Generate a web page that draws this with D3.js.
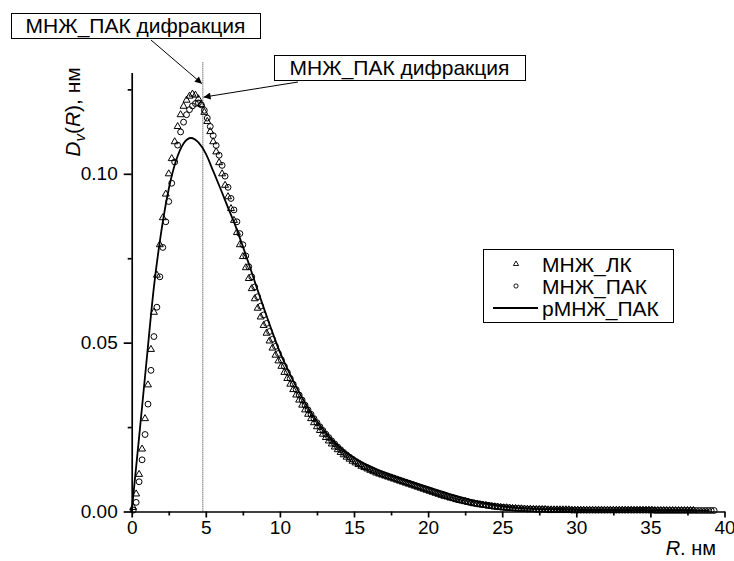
<!DOCTYPE html>
<html><head><meta charset="utf-8">
<script src="https://cdn.jsdelivr.net/npm/d3@7"></script>
<style>
body{margin:0;background:#fff;}
svg{display:block;font-family:"Liberation Sans",Arial,sans-serif;}
</style></head>
<body><svg id="c" width="734" height="561"></svg>
<script>
// R grid (nm) for the marker series
const R = [
0.1,0.3,0.5,0.7,0.9,1.1,1.3,1.5,1.7,1.9,
2.1,2.3,2.5,2.7,2.9,3.1,3.3,3.5,3.7,3.9,
4.1,4.3,4.5,4.7,4.9,5.1,5.3,5.5,5.7,5.9,
6.1,6.3,6.5,6.7,6.9,7.1,7.3,7.5,7.7,7.9,
8.1,8.3,8.5,8.7,8.9,9.1,9.3,9.5,9.7,9.9,
10.1,10.3,10.5,10.7,10.9,11.1,11.3,11.5,11.7,11.9,
12.1,12.3,12.5,12.7,12.9,13.1,13.3,13.5,13.7,13.9,
14.1,14.3,14.5,14.7,14.9,15.1,15.3,15.5,15.7,15.9,
16.1,16.3,16.5,16.7,16.9,17.1,17.3,17.5,17.7,17.9,
18.1,18.3,18.5,18.7,18.9,19.1,19.3,19.5,19.7,19.9,
20.1,20.3,20.5,20.7,20.9,21.1,21.3,21.5,21.7,21.9,
22.1,22.3,22.5,22.7,22.9,23.1,23.3,23.5,23.7,23.9,
24.1,24.3,24.5,24.7,24.9,25.1,25.3,25.5,25.7,25.9,
26.1,26.3,26.5,26.7,26.9,27.1,27.3,27.5,27.7,27.9,
28.1,28.3,28.5,28.7,28.9,29.1,29.3,29.5,29.7,29.9,
30.1,30.3,30.5,30.7,30.9,31.1,31.3,31.5,31.7,31.9,
32.1,32.3,32.5,32.7,32.9,33.1,33.3,33.5,33.7,33.9,
34.1,34.3,34.5,34.7,34.9,35.1,35.3,35.5,35.7,35.9,
36.1,36.3,36.5,36.7,36.9,37.1,37.3,37.5,37.7,37.9,
38.1,38.3,38.5,38.7,38.9,39.1,39.3];

// МНЖ_ЛК (triangles)
const mnzhLK = [
.0012,.0052,.0110,.0185,.0275,.0375,.0480,.0590,.0700,.0790,
.0870,.0940,.1000,.1045,.1095,.1140,.1175,.1200,.1218,.1230,
.1236,.1233,.1222,.1205,.1182,.1155,.1125,.1095,.1065,.1033,
.1000,.0966,.0932,.0897,.0862,.0826,.0790,.0755,.0722,.0690,
.0660,.0630,.0602,.0576,.0551,.0528,.0505,.0484,.0463,.0446,
.0430,.0412,.0394,.0377,.0361,.0345,.0330,.0315,.0301,.0288,
.0275,.0263,.0251,.0240,.0229,.0219,.0209,.0200,.0191,.0183,
.0175,.0168,.0161,.0155,.0149,.0144,.0139,.0134,.0130,.0126,
.0122,.0118,.0114,.0111,.0108,.0105,.0102,.0099,.0096,.0093,
.0090,.0087,.0084,.0081,.0078,.0075,.0072,.0069,.0066,.0063,
.0060,.0057,.0054,.0051,.0048,.0045,.0043,.0040,.0038,.0035,
.0033,.0031,.0029,.0027,.0025,.0023,.0022,.0020,.0019,.0018,
.0016,.0015,.0014,.0013,.0012,.0011,.0011,.0010,.0009,.0009,
.0008,.0008,.0007,.0007,.0007,.0006,.0006,.0006,.0006,.0006,
.0005,.0005,.0005,.0005,.0005,.0005,.0005,.0005,.0004,.0004,
.0004,.0004,.0004,.0004,.0004,.0004,.0004,.0004,.0004,.0004,
.0004,.0004,.0004,.0004,.0004,.0004,.0004,.0004,.0004,.0004,
.0004,.0004,.0004,.0004,.0004,.0004,.0003,.0003,.0003,.0003,
.0003,.0003,.0003,.0003,.0003,.0003,.0003,.0003,.0003,.0003,
null,null,null,null,null,null,null];

// МНЖ_ПАК (circles)
const mnzhPAK = [
.0004,.0027,.0088,.0153,.0228,.0318,.0418,.0518,.0605,.0695,
.0782,.0858,.0918,.0972,.1035,.1085,.1124,.1153,.1175,.1190,
.1201,.1208,.1210,.1204,.1188,.1165,.1140,.1113,.1084,.1055,
.1025,.0993,.0960,.0927,.0893,.0858,.0823,.0790,.0757,.0725,
.0695,.0665,.0636,.0608,.0582,.0557,.0533,.0510,.0489,.0468,
.0449,.0430,.0412,.0394,.0377,.0361,.0345,.0330,.0315,.0301,
.0288,.0275,.0263,.0251,.0240,.0229,.0219,.0209,.0200,.0191,
.0183,.0175,.0168,.0161,.0155,.0149,.0144,.0139,.0134,.0130,
.0126,.0122,.0118,.0114,.0111,.0108,.0105,.0102,.0099,.0096,
.0093,.0090,.0087,.0084,.0081,.0078,.0075,.0072,.0069,.0066,
.0063,.0060,.0057,.0054,.0051,.0048,.0045,.0043,.0040,.0038,
.0035,.0033,.0031,.0029,.0027,.0025,.0023,.0022,.0020,.0019,
.0018,.0016,.0015,.0014,.0013,.0012,.0011,.0011,.0010,.0009,
.0009,.0008,.0008,.0007,.0007,.0007,.0006,.0006,.0006,.0006,
.0005,.0005,.0005,.0005,.0005,.0005,.0005,.0005,.0004,.0004,
.0004,.0004,.0004,.0004,.0004,.0004,.0004,.0004,.0004,.0004,
.0004,.0004,.0004,.0004,.0004,.0004,.0004,.0004,.0004,.0004,
.0004,.0004,.0004,.0004,.0004,.0004,.0003,.0003,.0003,.0003,
.0003,.0003,.0003,.0003,.0003,.0003,.0003,.0003,.0003,.0003,
.0003,.0003,.0003,.0003,.0003,.0003,.0003];

// рМНЖ_ПАК (line)
const lineR = [
0,0.5,1,1.5,2,2.5,3,3.5,4,4.5,5,5.5,6,6.5,7,7.5,8,8.5,9,9.5,
10,10.5,11,11.5,12,12.5,13,13.5,14,14.5,15,15.5,16,16.5,17,17.5,18,18.5,19,19.5,
20,20.5,21,21.5,22,22.5,23,23.5,24,24.5,25,25.5,26,26.5,27,27.5,28,28.5,29,29.5,
30,30.5,31,31.5,32,32.5,33,33.5,34,34.5,35,35.5,36,36.5,37,37.5,38,38.5,39];
const rMnzhPAK = [
0,.0220,.0445,.0665,.0830,.0955,.1040,.1090,.1106,.1093,.1060,.1008,.0955,.0900,.0846,.0785,.0721,.0655,.0592,.0530,
.0472,.0423,.0378,.0337,.0300,.0268,.0240,.0214,.0193,.0174,.0159,.0146,.0135,.0125,.0117,.0108,.0100,.0093,.0086,.0079,
.0072,.0065,.0058,.0051,.0045,.0039,.0033,.0028,.0023,.0019,.0016,.0013,.0011,.0009,.0008,.0007,.0006,.0006,.0005,.0005,
.0005,.0004,.0004,.0004,.0004,.0004,.0004,.0004,.0004,.0004,.0003,.0003,.0003,.0003,.0003,.0003,.0003,.0003,.0003];

const xTicks = [0,5,10,15,20,25,30,35,40];
const xMinor = [2.5,7.5,12.5,17.5,22.5,27.5,32.5,37.5];
const yTicks = [0,0.05,0.10];
const yMinor = [0.025,0.075,0.125];
const legendNames = ["МНЖ_ЛК","МНЖ_ПАК","рМНЖ_ПАК"];
const annotText = "МНЖ_ПАК дифракция";
const diffR = 4.8;

const svg = d3.select("#c");
const x = d3.scaleLinear().domain([0,40]).range([131.7,724.5]);
const y = d3.scaleLinear().domain([0,0.13]).range([511.5,72.5]);

// vertical dotted line
svg.append("line").attr("x1",x(diffR)).attr("x2",x(diffR))
  .attr("y1",y(0.133)).attr("y2",y(0))
  .attr("stroke","#333").attr("stroke-width",1).attr("stroke-dasharray","1,1");

// data
const tri = d3.symbol().type(d3.symbolTriangle).size(21);
const cir = d3.symbol().type(d3.symbolCircle).size(27);
const triData = R.map((r,i)=>[r,mnzhLK[i]]).filter(d=>d[1]!=null);
const cirData = R.map((r,i)=>[r,mnzhPAK[i]]).filter(d=>d[1]!=null);

svg.append("g").selectAll("path").data(triData).join("path")
  .attr("d",tri).attr("transform",d=>`translate(${x(d[0])},${y(d[1])})`)
  .attr("fill","none").attr("stroke","#000").attr("stroke-width",1);
svg.append("g").selectAll("path").data(cirData).join("path")
  .attr("d",cir).attr("transform",d=>`translate(${x(d[0])},${y(d[1])})`)
  .attr("fill","none").attr("stroke","#000").attr("stroke-width",1);

const lineGen = d3.line().x(d=>x(d[0])).y(d=>y(d[1])).curve(d3.curveMonotoneX);
svg.append("path").datum(lineR.map((r,i)=>[r,rMnzhPAK[i]]))
  .attr("d",lineGen).attr("fill","none").attr("stroke","#000").attr("stroke-width",1.8);

// axes
function styleAxis(g){
  g.select(".domain").attr("stroke-width",1.7);
  g.selectAll(".tick line").attr("stroke-width",1.7);
  g.selectAll(".tick text").attr("font-size",19).attr("font-family","Liberation Sans, Arial, sans-serif").attr("fill","#000");
}
const gx = svg.append("g").attr("transform",`translate(0,${y(0)})`)
  .call(d3.axisBottom(x).tickValues(xTicks).tickSize(6).tickSizeOuter(0).tickPadding(3).tickFormat(d3.format("d")));
styleAxis(gx);
const gxm = svg.append("g").attr("transform",`translate(0,${y(0)})`)
  .call(d3.axisBottom(x).tickValues(xMinor).tickSize(4).tickSizeOuter(0).tickFormat(""));
gxm.select(".domain").remove(); styleAxis(gxm);

const gy = svg.append("g").attr("transform",`translate(${x(0)},0)`)
  .call(d3.axisLeft(y).tickValues(yTicks).tickSize(8).tickSizeOuter(0).tickPadding(6).tickFormat(d3.format(".2f")));
styleAxis(gy);
const gym = svg.append("g").attr("transform",`translate(${x(0)},0)`)
  .call(d3.axisLeft(y).tickValues(yMinor).tickSize(4).tickSizeOuter(0).tickFormat(""));
gym.select(".domain").remove(); styleAxis(gym);

// axis titles
const xt = svg.append("text").attr("x",716).attr("y",555).attr("text-anchor","end").attr("font-size",20);
xt.append("tspan").attr("font-style","italic").text("R");
xt.append("tspan").text(". нм");

const yt = svg.append("text").attr("transform","translate(80,112) rotate(-90)").attr("text-anchor","middle").attr("font-size",21);
yt.append("tspan").attr("font-style","italic").text("D");
yt.append("tspan").attr("font-style","italic").attr("font-size",15).attr("dy",5).text("v");
yt.append("tspan").attr("dy",-5).text("(");
yt.append("tspan").attr("font-style","italic").text("R");
yt.append("tspan").text("), нм");

// legend
const lg = svg.append("g");
lg.append("rect").attr("x",483.5).attr("y",249.5).attr("width",190).attr("height",73)
  .attr("fill","#fff").attr("stroke","#000").attr("stroke-width",1);
const rowY = [264,286,308];
lg.append("path").attr("d",d3.symbol().type(d3.symbolTriangle).size(12)())
  .attr("transform",`translate(516,${rowY[0]})`).attr("fill","none").attr("stroke","#000").attr("stroke-width",0.9);
lg.append("path").attr("d",d3.symbol().type(d3.symbolCircle).size(14)())
  .attr("transform",`translate(516,${rowY[1]})`).attr("fill","none").attr("stroke","#000").attr("stroke-width",0.9);
lg.append("line").attr("x1",493).attr("x2",538).attr("y1",rowY[2]).attr("y2",rowY[2])
  .attr("stroke","#000").attr("stroke-width",1.8);
lg.selectAll("text.l").data(legendNames).join("text").attr("class","l")
  .attr("x",542).attr("y",(d,i)=>rowY[i]+7.5).attr("font-size",21).text(d=>d);

// annotations
const defs = svg.append("defs");
defs.append("marker").attr("id","ah").attr("viewBox","0 0 10 10").attr("refX",10).attr("refY",5)
  .attr("markerWidth",13).attr("markerHeight",7).attr("markerUnits","userSpaceOnUse").attr("orient","auto")
  .append("path").attr("d","M0,0L10,5L0,10Z").attr("fill","#000");

function annot(bx,by,bw,bh,fromX,fromY,tipR,tipD){
  svg.append("rect").attr("x",bx+0.5).attr("y",by+0.5).attr("width",bw).attr("height",bh)
    .attr("fill","#fff").attr("stroke","#000").attr("stroke-width",1);
  svg.append("text").attr("x",bx+bw/2).attr("y",by+bh/2+7.5).attr("text-anchor","middle")
    .attr("font-size",21).text(annotText);
  svg.append("line").attr("x1",fromX).attr("y1",fromY).attr("x2",x(tipR)).attr("y2",y(tipD))
    .attr("stroke","#000").attr("stroke-width",1).attr("marker-end","url(#ah)");
}
annot(11,13,249,25,151,40,4.74,0.1267);
annot(274,55,251,25,298,82,4.85,0.1227);
</script></body></html>
